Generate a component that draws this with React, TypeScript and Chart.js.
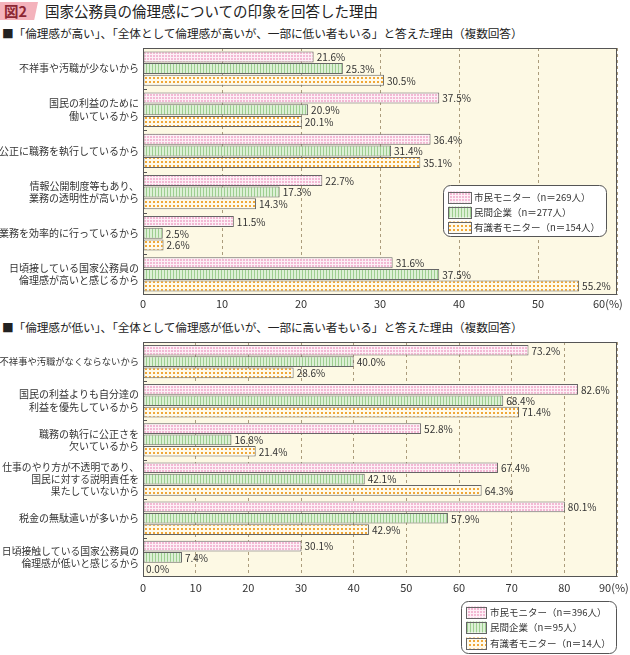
import React, { useEffect, useRef } from 'react';
import { Chart, registerables } from 'chart.js';
Chart.register(...registerables);

const FONT = "'Noto Sans CJK JP', 'Noto Sans', sans-serif";

// ---- Data: chart 1 ----
const categories1: string[][] = [
  ['不祥事や汚職が少ないから'],
  ['国民の利益のために', '働いているから'],
  ['公正に職務を執行しているから'],
  ['情報公開制度等もあり、', '業務の透明性が高いから'],
  ['業務を効率的に行っているから'],
  ['日頃接している国家公務員の', '倫理感が高いと感じるから'],
];
const citizen1 = [21.6, 37.5, 36.4, 22.7, 11.5, 31.6];
const company1 = [25.3, 20.9, 31.4, 17.3, 2.5, 37.5];
const expert1 = [30.5, 20.1, 35.1, 14.3, 2.6, 55.2];
const names1 = ['市民モニター（n＝269人）', '民間企業（n＝277人）', '有識者モニター（n＝154人）'];
const xMax1 = 60;

// ---- Data: chart 2 ----
const categories2: string[][] = [
  ['不祥事や汚職がなくならないから'],
  ['国民の利益よりも自分達の', '利益を優先しているから'],
  ['職務の執行に公正さを', '欠いているから'],
  ['仕事のやり方が不透明であり、', '国民に対する説明責任を', '果たしていないから'],
  ['税金の無駄遣いが多いから'],
  ['日頃接触している国家公務員の', '倫理感が低いと感じるから'],
];
const citizen2 = [73.2, 82.6, 52.8, 67.4, 80.1, 30.1];
const company2 = [40.0, 68.4, 16.8, 42.1, 57.9, 7.4];
const expert2 = [28.6, 71.4, 21.4, 64.3, 42.9, 0.0];
const names2 = ['市民モニター（n＝396人）', '民間企業（n＝95人）', '有識者モニター（n＝14人）'];
const xMax2 = 90;

const xStep = 10;

function makePatterns(ctx: CanvasRenderingContext2D): CanvasPattern[] {
  const mk = (w: number, h: number, draw: (g: CanvasRenderingContext2D) => void) => {
    const c = document.createElement('canvas');
    c.width = w;
    c.height = h;
    const g = c.getContext('2d')!;
    draw(g);
    return ctx.createPattern(c, 'repeat')!;
  };
  const pink = mk(3, 3, (g) => {
    g.fillStyle = '#f3b9d4';
    g.fillRect(0, 0, 3, 3);
    g.fillStyle = '#fdf0f6';
    g.fillRect(2, 0, 1, 3);
    g.fillRect(0, 2, 3, 1);
  });
  const green = mk(3, 1, (g) => {
    g.fillStyle = '#ddf0d6';
    g.fillRect(0, 0, 3, 1);
    g.fillStyle = '#9dce90';
    g.fillRect(2, 0, 1, 1);
  });
  const orange = mk(4, 4, (g) => {
    g.fillStyle = '#fffaea';
    g.fillRect(0, 0, 4, 4);
    g.fillStyle = '#f0a838';
    g.fillRect(1, 1, 2, 2);
  });
  return [pink, green, orange];
}

type LegendCfg = { x: number; y: number; w: number; h: number; swX: number; swW: number; textX: number; rows: number[] };

type Cfg = {
  categories: string[][];
  series: number[][];
  names: string[];
  max: number;
  legend: LegendCfg;
  lastOffset: number;
  tickPad: number;
  padding: { top: number; right: number; bottom: number; left: number };
  catPct: number;
  yFonts: number[];
};

function buildChart(canvas: HTMLCanvasElement, cfg: Cfg) {
  const c2d = canvas.getContext('2d')!;
  const pats = makePatterns(c2d);
  const n = cfg.categories.length;
  const plugin = {
    id: 'deco',
    beforeDraw(chart: any) {
      const { ctx, chartArea: a } = chart;
      ctx.save();
      ctx.fillStyle = '#fdf9e4';
      ctx.fillRect(a.left, a.top, a.right - a.left, a.bottom - a.top);
      ctx.restore();
    },
    afterDatasetsDraw(chart: any) {
      const ctx = chart.ctx;
      ctx.save();
      ctx.font = `10px ${FONT}`;
      ctx.fillStyle = '#333';
      ctx.textBaseline = 'middle';
      ctx.textAlign = 'left';
      chart.data.datasets.forEach((ds: any, di: number) => {
        const meta = chart.getDatasetMeta(di);
        meta.data.forEach((el: any, i: number) => {
          const v = ds.data[i] as number;
          ctx.fillText(v.toFixed(1) + '%', el.x + 3, el.y + 0.5);
        });
      });
      ctx.restore();
    },
    afterDraw(chart: any) {
      const { ctx, chartArea: a, scales } = chart;
      ctx.save();
      ctx.strokeStyle = '#555';
      ctx.lineWidth = 1;
      ctx.strokeRect(Math.round(a.left) + 0.5, Math.round(a.top) + 0.5, Math.round(a.right - a.left) - 1, Math.round(a.bottom - a.top) - 1);
      // small category separators on the left axis
      const ys = scales.y;
      ctx.beginPath();
      for (let i = 1; i < n; i++) {
        const y = Math.round((ys.getPixelForValue(i - 1) + ys.getPixelForValue(i)) / 2) + 0.5;
        ctx.moveTo(a.left, y);
        ctx.lineTo(a.left + 4, y);
      }
      ctx.stroke();
      // last x label with unit
      const xs = scales.x;
      ctx.font = `11px ${FONT}`;
      ctx.fillStyle = '#333';
      ctx.textAlign = 'left';
      ctx.textBaseline = 'middle';
      ctx.fillText(`${cfg.max}(%)`, xs.getPixelForValue(cfg.max) - cfg.lastOffset, a.bottom + cfg.tickPad + 6.6);
      // legend
      const L = cfg.legend;
      ctx.beginPath();
      (ctx as any).roundRect(L.x + 0.5, L.y + 0.5, L.w, L.h, 7);
      ctx.fillStyle = '#ffffff';
      ctx.fill();
      ctx.strokeStyle = '#555';
      ctx.stroke();
      ctx.font = `9.5px ${FONT}`;
      cfg.names.forEach((name, k) => {
        const cy = L.rows[k];
        ctx.fillStyle = pats[k];
        ctx.fillRect(L.swX, cy - 5.5, L.swW, 11);
        ctx.strokeStyle = '#666';
        ctx.strokeRect(L.swX + 0.5, Math.round(cy - 5.5) + 0.5, L.swW, 11);
        ctx.fillStyle = '#333';
        ctx.textAlign = 'left';
        ctx.textBaseline = 'middle';
        ctx.fillText(name, L.textX, cy + 0.5);
      });
      ctx.restore();
    },
  };

  return new Chart(canvas, {
    type: 'bar',
    data: {
      labels: cfg.categories as any,
      datasets: cfg.series.map((d, k) => ({
        label: cfg.names[k],
        data: d,
        backgroundColor: pats[k] as any,
        borderColor: '#666',
        borderWidth: 1,
        borderSkipped: false,
        categoryPercentage: cfg.catPct,
        barPercentage: 0.94,
      })),
    },
    options: {
      indexAxis: 'y',
      responsive: false,
      maintainAspectRatio: false,
      animation: false,
      events: [],
      layout: { padding: cfg.padding },
      plugins: { legend: { display: false }, tooltip: { enabled: false } },
      scales: {
        x: {
          min: 0,
          max: cfg.max,
          ticks: {
            stepSize: xStep,
            padding: cfg.tickPad,
            font: { size: 11, family: FONT },
            color: '#333',
            maxRotation: 0,
            callback: (v: any) => (Number(v) === cfg.max ? '' : String(v)),
          },
          grid: { color: '#ab9c7c', drawTicks: false, lineWidth: 1 },
          border: { display: false, dash: [3, 3] },
          afterFit: (s: any) => {
            s.height = 20;
            s.paddingLeft = 0;
            s.paddingRight = 0;
          },
        },
        y: {
          ticks: {
            font: (c: any) => ({ size: cfg.yFonts[c.index] ?? 10, family: FONT, lineHeight: 1.22 }),
            color: '#333',
            padding: 4,
            autoSkip: false,
          },
          grid: { display: false, drawTicks: false },
          border: { display: false },
          afterFit: (s: any) => {
            s.width = 143;
            s.paddingTop = 0;
            s.paddingBottom = 0;
          },
        },
      },
    } as any,
    plugins: [plugin as any],
  });
}

export default function App() {
  const ref1 = useRef<HTMLCanvasElement>(null);
  const ref2 = useRef<HTMLCanvasElement>(null);

  useEffect(() => {
    const c1 = buildChart(ref1.current!, {
      categories: categories1,
      series: [citizen1, company1, expert1],
      names: names1,
      max: xMax1,
      legend: { x: 443, y: 145, w: 163, h: 51, swX: 448, swW: 23, textX: 474, rows: [157, 172, 187] },
      lastOffset: 24,
      tickPad: 2,
      padding: { top: 8, right: 13, bottom: 0, left: 0 },
      catPct: 0.85,
      yFonts: [10, 10, 10, 10, 10, 10],
    });
    const c2 = buildChart(ref2.current!, {
      categories: categories2,
      series: [citizen2, company2, expert2],
      names: names2,
      max: xMax2,
      legend: { x: 461, y: 266, w: 155, h: 52, swX: 466, swW: 20, textX: 490, rows: [277, 292, 308] },
      lastOffset: 18,
      tickPad: 4,
      padding: { top: 7, right: 13, bottom: 58, left: 0 },
      catPct: 0.87,
      yFonts: [9.3, 10, 10, 9.8, 10, 9.8],
    });
    return () => {
      c1.destroy();
      c2.destroy();
    };
  }, []);

  return (
    <div style={{ position: 'absolute', left: 0, top: 0, width: 630, height: 655, background: '#fff', fontFamily: FONT, color: '#222', overflow: 'hidden' }}>
      <div style={{ position: 'absolute', left: 0, top: 2, width: 38, height: 18, background: '#f4b3bc', clipPath: 'polygon(0 0, 100% 0, 90% 100%, 0 100%)' }} />
      <div style={{ position: 'absolute', left: 4, top: 1, fontSize: 14.5, fontWeight: 700, color: '#8c2633', lineHeight: '20px' }}>図2</div>
      <div style={{ position: 'absolute', left: 45, top: 1, fontSize: 14.5, lineHeight: '20px', color: '#222', whiteSpace: 'nowrap' }}>
        国家公務員の倫理感についての印象を回答した理由
      </div>
      <div style={{ position: 'absolute', left: 2, top: 26, fontSize: 11.7, lineHeight: '14px', color: '#222', whiteSpace: 'nowrap', letterSpacing: '-0.1px' }}>
        ■「倫理感が高い」、「全体として倫理感が高いが、一部に低い者もいる」と答えた理由（複数回答）
      </div>
      <canvas ref={ref1} width={630} height={275} style={{ position: 'absolute', left: 0, top: 40, width: 630, height: 275 }} />
      <div style={{ position: 'absolute', left: 2, top: 320, fontSize: 11.7, lineHeight: '14px', color: '#222', whiteSpace: 'nowrap', letterSpacing: '-0.1px' }}>
        ■「倫理感が低い」、「全体として倫理感が低いが、一部に高い者もいる」と答えた理由（複数回答）
      </div>
      <canvas ref={ref2} width={630} height={320} style={{ position: 'absolute', left: 0, top: 335, width: 630, height: 320 }} />
    </div>
  );
}
